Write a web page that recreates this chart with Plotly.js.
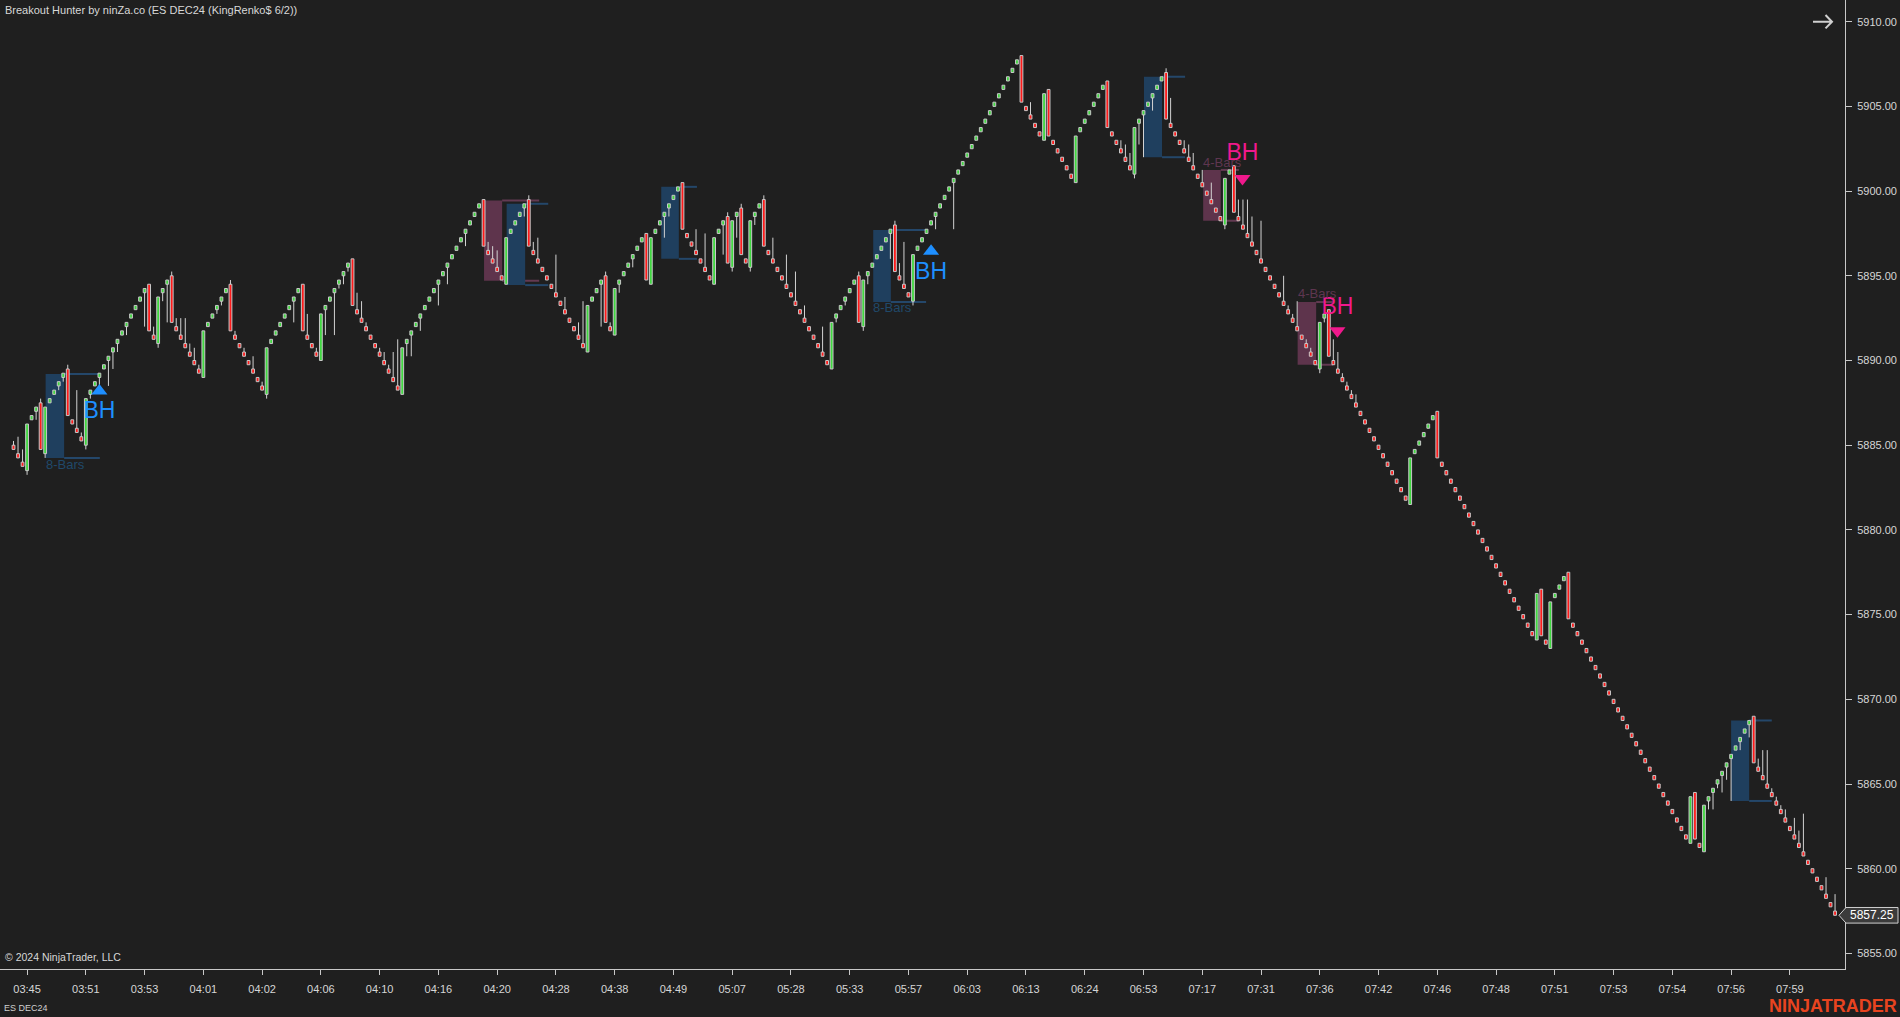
<!DOCTYPE html>
<html><head><meta charset="utf-8">
<script src="https://cdn.plot.ly/plotly-3.0.1.min.js"></script>
<style>html,body{margin:0;padding:0;background:#1f1f1f;overflow:hidden}#chart{width:1900px;height:1017px}</style>
</head><body><div id="chart"></div>
<script>
// ---- Renko bars (ES DEC24, KingRenko 6/2) ----
const opens = [
5885.0,5884.5,5884.0,5883.5,5886.5,5887.0,5887.5,5884.5,5887.5,5888.0,
5888.5,5889.0,5889.5,5886.5,5886.0,5885.5,5885.0,5888.0,5888.5,5889.0,
5889.5,5890.0,5890.5,5891.0,5891.5,5892.0,5892.5,5893.0,5893.5,5894.0,
5894.5,5891.5,5891.0,5894.0,5894.5,5895.0,5892.0,5891.5,5891.0,5890.5,
5890.0,5889.5,5889.0,5892.0,5892.5,5893.0,5893.5,5894.0,5894.5,5891.5,
5891.0,5890.5,5890.0,5889.5,5889.0,5888.5,5888.0,5891.0,5891.5,5892.0,
5892.5,5893.0,5893.5,5894.0,5894.5,5891.5,5891.0,5890.5,5890.0,5893.0,
5893.5,5894.0,5894.5,5895.0,5895.5,5896.0,5893.0,5892.5,5892.0,5891.5,
5891.0,5890.5,5890.0,5889.5,5889.0,5888.5,5888.0,5891.0,5891.5,5892.0,
5892.5,5893.0,5893.5,5894.0,5894.5,5895.0,5895.5,5896.0,5896.5,5897.0,
5897.5,5898.0,5898.5,5899.0,5899.5,5896.5,5896.0,5895.5,5895.0,5894.5,
5897.5,5898.0,5898.5,5899.0,5899.5,5896.5,5896.0,5895.5,5895.0,5894.5,
5894.0,5893.5,5893.0,5892.5,5892.0,5891.5,5891.0,5890.5,5893.5,5894.0,
5894.5,5895.0,5892.0,5891.5,5894.5,5895.0,5895.5,5896.0,5896.5,5897.0,
5897.5,5894.5,5897.5,5898.0,5898.5,5899.0,5899.5,5900.0,5900.5,5897.5,
5897.0,5896.5,5896.0,5895.5,5895.0,5894.5,5897.5,5898.0,5898.5,5895.5,
5898.5,5899.0,5896.0,5895.5,5898.5,5899.0,5899.5,5896.5,5896.0,5895.5,
5895.0,5894.5,5894.0,5893.5,5893.0,5892.5,5892.0,5891.5,5891.0,5890.5,
5890.0,5889.5,5892.5,5893.0,5893.5,5894.0,5894.5,5895.0,5892.0,5895.0,
5895.5,5896.0,5896.5,5897.0,5897.5,5898.0,5895.0,5894.5,5894.0,5893.5,
5896.5,5897.0,5897.5,5898.0,5898.5,5899.0,5899.5,5900.0,5900.5,5901.0,
5901.5,5902.0,5902.5,5903.0,5903.5,5904.0,5904.5,5905.0,5905.5,5906.0,
5906.5,5907.0,5907.5,5908.0,5905.0,5904.5,5904.0,5903.5,5903.0,5906.0,
5903.0,5902.5,5902.0,5901.5,5901.0,5900.5,5903.5,5904.0,5904.5,5905.0,
5905.5,5906.0,5906.5,5903.5,5903.0,5902.5,5902.0,5901.5,5901.0,5904.0,
5904.5,5905.0,5905.5,5906.0,5906.5,5907.0,5904.0,5903.5,5903.0,5902.5,
5902.0,5901.5,5901.0,5900.5,5900.0,5899.5,5899.0,5898.5,5898.0,5901.0,
5901.5,5898.5,5898.0,5897.5,5897.0,5896.5,5896.0,5895.5,5895.0,5894.5,
5894.0,5893.5,5893.0,5892.5,5892.0,5891.5,5891.0,5890.5,5890.0,5889.5,
5892.5,5893.0,5890.0,5889.5,5889.0,5888.5,5888.0,5887.5,5887.0,5886.5,
5886.0,5885.5,5885.0,5884.5,5884.0,5883.5,5883.0,5882.5,5882.0,5881.5,
5884.5,5885.0,5885.5,5886.0,5886.5,5887.0,5884.0,5883.5,5883.0,5882.5,
5882.0,5881.5,5881.0,5880.5,5880.0,5879.5,5879.0,5878.5,5878.0,5877.5,
5877.0,5876.5,5876.0,5875.5,5875.0,5874.5,5874.0,5873.5,5876.5,5873.5,
5873.0,5876.0,5876.5,5877.0,5877.5,5874.5,5874.0,5873.5,5873.0,5872.5,
5872.0,5871.5,5871.0,5870.5,5870.0,5869.5,5869.0,5868.5,5868.0,5867.5,
5867.0,5866.5,5866.0,5865.5,5865.0,5864.5,5864.0,5863.5,5863.0,5862.5,
5862.0,5861.5,5864.5,5861.5,5861.0,5864.0,5864.5,5865.0,5865.5,5866.0,
5866.5,5867.0,5867.5,5868.0,5868.5,5869.0,5866.0,5865.5,5865.0,5864.5,
5864.0,5863.5,5863.0,5862.5,5862.0,5861.5,5861.0,5860.5,5860.0,5859.5,
5859.0,5858.5,5858.0,5857.5];
const highs = [
5885.25,5885.5,5884.75,5886.25,5886.75,5887.25,5887.75,5887.25,5887.75,5888.25,
5888.75,5889.25,5889.75,5886.5,5888.25,5885.75,5887.75,5888.25,5888.75,5889.25,
5889.75,5890.25,5890.75,5891.25,5891.75,5892.25,5892.75,5893.25,5893.75,5894.25,
5894.5,5892.0,5893.75,5894.25,5894.75,5895.25,5892.5,5892.5,5892.5,5891.0,
5890.75,5889.75,5891.75,5892.25,5892.75,5893.25,5893.75,5894.25,5894.75,5891.75,
5891.0,5890.75,5890.0,5890.25,5889.0,5888.75,5890.75,5891.25,5891.75,5892.25,
5892.75,5893.25,5893.75,5894.25,5894.5,5892.75,5891.0,5890.75,5892.75,5893.25,
5893.75,5894.25,5894.75,5895.25,5895.75,5896.0,5894.0,5893.5,5892.25,5891.5,
5891.0,5890.75,5890.5,5889.75,5890.5,5891.25,5890.75,5891.25,5891.75,5892.25,
5892.75,5893.25,5893.75,5894.25,5894.75,5895.25,5895.75,5896.25,5896.75,5897.25,
5897.75,5898.25,5898.75,5899.25,5899.5,5897.0,5896.75,5896.5,5895.0,5897.25,
5897.75,5898.25,5898.75,5899.25,5899.75,5897.0,5897.25,5895.5,5895.0,5894.5,
5896.25,5893.5,5893.75,5892.5,5892.0,5892.25,5893.5,5893.25,5893.75,5894.25,
5894.75,5895.25,5892.25,5894.25,5894.75,5895.25,5895.75,5896.25,5896.75,5897.25,
5897.5,5897.25,5897.75,5898.25,5898.75,5899.25,5899.75,5900.25,5900.5,5897.5,
5897.0,5897.75,5896.0,5897.5,5895.0,5897.25,5897.75,5898.25,5898.75,5898.25,
5898.75,5899.25,5896.0,5898.25,5898.75,5899.25,5899.75,5896.5,5897.25,5895.5,
5895.0,5896.25,5894.0,5895.25,5893.0,5893.25,5892.0,5891.5,5891.0,5892.0,
5890.0,5892.25,5892.75,5893.25,5893.75,5894.25,5894.75,5895.25,5894.75,5895.25,
5895.75,5896.25,5896.75,5897.25,5897.75,5898.25,5895.75,5897.0,5894.0,5896.25,
5896.75,5897.25,5897.75,5898.25,5898.75,5899.25,5899.75,5900.25,5900.75,5901.25,
5901.75,5902.25,5902.75,5903.25,5903.75,5904.25,5904.75,5905.25,5905.75,5906.25,
5906.75,5907.25,5907.75,5908.0,5905.0,5905.25,5904.0,5903.5,5905.75,5906.0,
5903.0,5902.5,5902.0,5901.5,5901.0,5903.25,5903.75,5904.25,5904.75,5905.25,
5905.75,5906.25,5906.5,5903.5,5903.0,5903.0,5902.75,5902.25,5903.75,5904.25,
5904.75,5905.25,5905.75,5906.25,5906.75,5907.25,5905.5,5903.5,5903.0,5903.0,
5902.75,5902.25,5901.0,5901.25,5900.0,5900.5,5899.0,5898.5,5900.75,5901.25,
5901.5,5899.5,5899.5,5899.5,5898.5,5896.5,5898.25,5895.5,5895.0,5894.5,
5894.0,5895.0,5893.25,5892.75,5893.5,5891.5,5891.25,5890.75,5890.0,5892.25,
5892.75,5893.0,5891.25,5890.5,5889.25,5888.75,5888.25,5888.0,5887.0,5886.5,
5886.0,5885.5,5885.0,5884.5,5884.0,5883.5,5883.0,5882.5,5882.0,5884.25,
5884.75,5885.25,5885.75,5886.25,5886.75,5887.0,5884.0,5883.5,5883.0,5882.5,
5882.0,5881.5,5881.0,5880.5,5880.0,5879.5,5879.0,5878.5,5878.0,5877.5,
5877.0,5876.5,5876.0,5875.5,5875.0,5874.5,5874.0,5876.25,5876.5,5873.5,
5875.75,5876.25,5876.75,5877.25,5877.5,5874.5,5874.0,5873.5,5873.0,5872.5,
5872.0,5871.5,5871.0,5870.5,5870.0,5869.5,5869.0,5868.5,5868.0,5867.5,
5867.0,5866.5,5866.0,5865.5,5865.0,5864.5,5864.0,5863.5,5863.0,5862.5,
5862.0,5864.25,5864.5,5861.5,5863.75,5864.25,5864.75,5865.25,5865.75,5866.25,
5866.75,5867.25,5867.75,5868.25,5868.75,5869.0,5866.5,5867.0,5867.0,5864.75,
5864.25,5863.75,5863.5,5862.5,5863.0,5862.25,5863.25,5860.5,5860.0,5859.5,
5859.0,5859.5,5858.0,5858.5];
const lows = [
5884.75,5884.25,5883.75,5883.25,5886.5,5886.5,5884.75,5884.25,5887.5,5888.0,
5888.25,5888.75,5886.75,5886.25,5885.75,5885.25,5884.75,5887.75,5888.5,5888.5,
5889.5,5888.5,5889.5,5890.5,5891.5,5891.5,5892.5,5893.0,5893.5,5892.0,
5891.75,5891.25,5890.75,5893.5,5892.25,5892.25,5891.75,5891.25,5890.75,5890.25,
5889.75,5889.25,5889.0,5892.0,5892.5,5892.75,5893.25,5894.0,5891.75,5891.25,
5890.75,5890.25,5889.75,5889.25,5888.75,5888.25,5887.75,5891.0,5891.5,5892.0,
5892.5,5893.0,5892.25,5894.0,5891.75,5891.25,5890.75,5890.25,5890.0,5891.5,
5893.5,5891.5,5894.25,5894.5,5895.25,5893.25,5892.75,5892.25,5891.75,5891.25,
5890.75,5890.25,5889.75,5889.25,5888.75,5888.25,5888.0,5890.25,5890.25,5892.0,
5891.75,5893.0,5893.5,5894.0,5893.25,5895.0,5894.5,5896.0,5896.5,5897.0,
5896.75,5898.0,5898.5,5899.0,5896.75,5896.25,5895.75,5895.25,5894.75,5894.5,
5897.5,5898.0,5898.5,5898.5,5896.75,5896.25,5895.75,5895.25,5894.75,5894.25,
5893.75,5893.25,5892.75,5892.25,5891.75,5891.25,5890.75,5890.5,5893.5,5894.0,
5892.0,5892.25,5891.75,5891.5,5894.0,5895.0,5895.5,5895.5,5896.5,5897.0,
5894.75,5894.5,5897.5,5898.0,5897.25,5898.5,5899.5,5900.0,5897.75,5897.25,
5896.75,5896.25,5895.75,5895.25,5894.75,5894.5,5897.5,5896.25,5895.75,5895.25,
5897.25,5896.25,5895.75,5895.25,5898.0,5899.0,5896.75,5896.25,5895.75,5895.25,
5894.75,5894.25,5893.75,5893.25,5892.75,5892.25,5891.75,5891.25,5890.75,5890.25,
5889.75,5889.5,5892.25,5893.0,5893.25,5894.0,5894.5,5892.25,5891.75,5894.5,
5895.5,5896.0,5896.5,5897.0,5896.0,5895.25,5894.75,5894.25,5893.75,5893.25,
5896.5,5897.0,5897.5,5898.0,5897.75,5899.0,5899.5,5900.0,5897.75,5901.0,
5901.5,5902.0,5902.5,5903.0,5903.5,5904.0,5904.5,5905.0,5905.5,5906.0,
5906.5,5907.0,5907.5,5905.25,5904.75,5904.25,5903.75,5903.25,5903.0,5903.25,
5902.75,5902.25,5901.75,5901.25,5900.75,5900.5,5903.5,5904.0,5904.5,5905.0,
5905.5,5906.0,5903.75,5903.25,5902.75,5902.25,5901.75,5901.25,5900.75,5902.75,
5902.0,5905.0,5904.75,5906.0,5906.5,5904.25,5903.75,5903.25,5902.75,5902.25,
5901.75,5901.25,5900.75,5900.25,5899.75,5899.25,5898.75,5898.25,5897.75,5901.0,
5898.75,5898.25,5897.75,5897.25,5896.75,5896.25,5895.75,5895.25,5894.75,5894.25,
5893.75,5893.25,5892.75,5892.25,5891.75,5891.25,5890.75,5890.25,5889.75,5889.25,
5892.25,5890.25,5889.75,5889.25,5888.75,5888.25,5887.75,5887.25,5886.75,5886.25,
5885.75,5885.25,5884.75,5884.25,5883.75,5883.25,5882.75,5882.25,5881.75,5881.5,
5884.5,5885.0,5885.5,5886.0,5886.5,5884.25,5883.75,5883.25,5882.75,5882.25,
5881.75,5881.25,5880.75,5880.25,5879.75,5879.25,5878.75,5878.25,5877.75,5877.25,
5876.75,5876.25,5875.75,5875.25,5874.75,5874.25,5873.75,5873.5,5873.75,5873.25,
5873.0,5876.0,5876.5,5877.0,5874.75,5874.25,5873.75,5873.25,5872.75,5872.25,
5871.75,5871.25,5870.75,5870.25,5869.75,5869.25,5868.75,5868.25,5867.75,5867.25,
5866.75,5866.25,5865.75,5865.25,5864.75,5864.25,5863.75,5863.25,5862.75,5862.25,
5861.75,5861.5,5861.75,5861.25,5861.0,5863.5,5863.5,5864.75,5864.5,5865.25,
5864.0,5867.0,5867.0,5868.0,5867.75,5866.25,5865.75,5865.25,5864.75,5864.25,
5863.75,5863.25,5862.75,5862.25,5861.75,5861.25,5860.75,5860.25,5859.75,5859.25,
5858.75,5858.25,5857.75,5857.25];
const closes = [
5884.75,5884.25,5883.75,5886.25,5886.75,5887.25,5884.75,5887.25,5887.75,5888.25,
5888.75,5889.25,5886.75,5886.25,5885.75,5885.25,5887.75,5888.25,5888.75,5889.25,
5889.75,5890.25,5890.75,5891.25,5891.75,5892.25,5892.75,5893.25,5893.75,5894.25,
5891.75,5891.25,5893.75,5894.25,5894.75,5892.25,5891.75,5891.25,5890.75,5890.25,
5889.75,5889.25,5891.75,5892.25,5892.75,5893.25,5893.75,5894.25,5891.75,5891.25,
5890.75,5890.25,5889.75,5889.25,5888.75,5888.25,5890.75,5891.25,5891.75,5892.25,
5892.75,5893.25,5893.75,5894.25,5891.75,5891.25,5890.75,5890.25,5892.75,5893.25,
5893.75,5894.25,5894.75,5895.25,5895.75,5893.25,5892.75,5892.25,5891.75,5891.25,
5890.75,5890.25,5889.75,5889.25,5888.75,5888.25,5890.75,5891.25,5891.75,5892.25,
5892.75,5893.25,5893.75,5894.25,5894.75,5895.25,5895.75,5896.25,5896.75,5897.25,
5897.75,5898.25,5898.75,5899.25,5896.75,5896.25,5895.75,5895.25,5894.75,5897.25,
5897.75,5898.25,5898.75,5899.25,5896.75,5896.25,5895.75,5895.25,5894.75,5894.25,
5893.75,5893.25,5892.75,5892.25,5891.75,5891.25,5890.75,5893.25,5893.75,5894.25,
5894.75,5892.25,5891.75,5894.25,5894.75,5895.25,5895.75,5896.25,5896.75,5897.25,
5894.75,5897.25,5897.75,5898.25,5898.75,5899.25,5899.75,5900.25,5897.75,5897.25,
5896.75,5896.25,5895.75,5895.25,5894.75,5897.25,5897.75,5898.25,5895.75,5898.25,
5898.75,5896.25,5895.75,5898.25,5898.75,5899.25,5896.75,5896.25,5895.75,5895.25,
5894.75,5894.25,5893.75,5893.25,5892.75,5892.25,5891.75,5891.25,5890.75,5890.25,
5889.75,5892.25,5892.75,5893.25,5893.75,5894.25,5894.75,5892.25,5894.75,5895.25,
5895.75,5896.25,5896.75,5897.25,5897.75,5895.25,5894.75,5894.25,5893.75,5896.25,
5896.75,5897.25,5897.75,5898.25,5898.75,5899.25,5899.75,5900.25,5900.75,5901.25,
5901.75,5902.25,5902.75,5903.25,5903.75,5904.25,5904.75,5905.25,5905.75,5906.25,
5906.75,5907.25,5907.75,5905.25,5904.75,5904.25,5903.75,5903.25,5905.75,5903.25,
5902.75,5902.25,5901.75,5901.25,5900.75,5903.25,5903.75,5904.25,5904.75,5905.25,
5905.75,5906.25,5903.75,5903.25,5902.75,5902.25,5901.75,5901.25,5903.75,5904.25,
5904.75,5905.25,5905.75,5906.25,5906.75,5904.25,5903.75,5903.25,5902.75,5902.25,
5901.75,5901.25,5900.75,5900.25,5899.75,5899.25,5898.75,5898.25,5900.75,5901.25,
5898.75,5898.25,5897.75,5897.25,5896.75,5896.25,5895.75,5895.25,5894.75,5894.25,
5893.75,5893.25,5892.75,5892.25,5891.75,5891.25,5890.75,5890.25,5889.75,5892.25,
5892.75,5890.25,5889.75,5889.25,5888.75,5888.25,5887.75,5887.25,5886.75,5886.25,
5885.75,5885.25,5884.75,5884.25,5883.75,5883.25,5882.75,5882.25,5881.75,5884.25,
5884.75,5885.25,5885.75,5886.25,5886.75,5884.25,5883.75,5883.25,5882.75,5882.25,
5881.75,5881.25,5880.75,5880.25,5879.75,5879.25,5878.75,5878.25,5877.75,5877.25,
5876.75,5876.25,5875.75,5875.25,5874.75,5874.25,5873.75,5876.25,5873.75,5873.25,
5875.75,5876.25,5876.75,5877.25,5874.75,5874.25,5873.75,5873.25,5872.75,5872.25,
5871.75,5871.25,5870.75,5870.25,5869.75,5869.25,5868.75,5868.25,5867.75,5867.25,
5866.75,5866.25,5865.75,5865.25,5864.75,5864.25,5863.75,5863.25,5862.75,5862.25,
5861.75,5864.25,5861.75,5861.25,5863.75,5864.25,5864.75,5865.25,5865.75,5866.25,
5866.75,5867.25,5867.75,5868.25,5868.75,5866.25,5865.75,5865.25,5864.75,5864.25,
5863.75,5863.25,5862.75,5862.25,5861.75,5861.25,5860.75,5860.25,5859.75,5859.25,
5858.75,5858.25,5857.75,5857.25];

// ---- time axis labels (bar index -> label) ----
const tickBars = [3,16,29,42,55,68,81,94,107,120,133,146,159,172,185,198,211,224,237,250,263,276,289,302,315,328,341,354,367,380,393];
const tickLabels = ["03:45","03:51","03:53","04:01","04:02","04:06","04:10","04:16","04:20","04:28","04:38","04:49","05:07","05:28","05:33","05:57","06:03","06:13","06:24","06:53","07:17","07:31","07:36","07:42","07:46","07:48","07:51","07:53","07:54","07:56","07:59"];

// ---- Breakout Hunter consolidation boxes ----
const boxStart    = [7.1, 104.1, 109.1, 143.3, 190.2, 250.1, 263.2, 284.1, 380.0];
const boxShadeEnd = [11.2, 108.1, 113.2, 147.2, 194.1, 254.1, 267.1, 288.2, 384.0];
const boxLineEnd  = [19.1, 116.3, 118.3, 151.2, 201.9, 259.2, 271.1, 291.9, 389.0];
const boxTop      = [5889.2, 5899.45, 5899.25, 5900.25, 5897.7, 5906.75, 5901.25, 5893.45, 5868.75];
const boxBottom   = [5884.25, 5894.7, 5894.45, 5896.0, 5893.45, 5902.0, 5898.25, 5889.75, 5864.0];
const boxSide     = ["buy","sell","buy","buy","buy","buy","sell","sell","buy"];
const boxLabel    = ["8-Bars","","","","8-Bars","","4-Bars","4-Bars",""];
const boxLabelY   = [5883.85, 0, 0, 0, 5893.1, 0, 5901.7, 5893.95, 0];

// ---- BH signals ----
const bhBar   = [19.0, 203.0, 271.9, 292.9];
const bhMarkY = [5888.2, 5896.45, 5900.75, 5891.75];
const bhTextY = [5886.95, 5895.15, 5902.15, 5893.1];
const bhSide  = ["buy","buy","sell","sell"];

const lastPrice = 5857.25;

// ---- geometry ----
const W = 1900, H = 1017, ML = 0, MR = 55, MT = 0, MB = 48;
const PW = W - ML - MR, PH = H - MT - MB;
const yMin = 5854.08, yMax = 5911.28;
const xMin = -2.99, xMax = 405.2;
const px2x = p => (p - ML) / PW;
const px2y = p => 1 - (p - MT) / PH;
const FONT = "Liberation Sans, Arial, sans-serif";

const idx = closes.map((_, i) => i);
const upX = [], upBase = [], upLen = [], dnX = [], dnBase = [], dnLen = [];
const wx = [], wy = [];
idx.forEach(i => {
  const o = opens[i], c = closes[i];
  const top = Math.max(o, c), bot = Math.min(o, c);
  if (c >= o) { upX.push(i); upBase.push(o); upLen.push(c - o); }
  else { dnX.push(i); dnBase.push(c); dnLen.push(o - c); }
  if (highs[i] > top) { wx.push(i, i, null); wy.push(highs[i], top, null); }
  if (lows[i] < bot) { wx.push(i, i, null); wy.push(bot, lows[i], null); }
});

const traces = [
  { type: "scatter", mode: "lines", x: wx, y: wy, line: { color: "#d2d2d2", width: 1 }, hoverinfo: "skip", connectgaps: false },
  { type: "bar", x: upX, base: upBase, y: upLen, width: 0.62,
    marker: { color: "#40d840", line: { color: "#c8c8c8", width: 1 } }, hoverinfo: "skip" },
  { type: "bar", x: dnX, base: dnBase, y: dnLen, width: 0.62,
    marker: { color: "#ff1a1a", line: { color: "#c8c8c8", width: 1 } }, hoverinfo: "skip" }
];

// BH triangles and texts
const buyI = bhSide.map((s, k) => s === "buy" ? k : -1).filter(k => k >= 0);
const sellI = bhSide.map((s, k) => s === "sell" ? k : -1).filter(k => k >= 0);
traces.push({ type: "scatter", mode: "markers", x: buyI.map(k => bhBar[k]), y: buyI.map(k => bhMarkY[k]),
  marker: { symbol: "triangle-up", size: 14, color: "#1e8fff" }, hoverinfo: "skip" });
traces.push({ type: "scatter", mode: "markers", x: sellI.map(k => bhBar[k]), y: sellI.map(k => bhMarkY[k]),
  marker: { symbol: "triangle-down", size: 14, color: "#f0198c" }, hoverinfo: "skip" });
traces.push({ type: "scatter", mode: "text", x: buyI.map(k => bhBar[k]), y: buyI.map(k => bhTextY[k]),
  text: buyI.map(() => "BH"), textposition: "middle center",
  textfont: { family: "Liberation Sans Narrow, Arial Narrow, " + FONT, size: 23, color: "#1e8fff" }, hoverinfo: "skip" });
traces.push({ type: "scatter", mode: "text", x: sellI.map(k => bhBar[k]), y: sellI.map(k => bhTextY[k]),
  text: sellI.map(() => "BH"), textposition: "middle center",
  textfont: { family: "Liberation Sans Narrow, Arial Narrow, " + FONT, size: 23, color: "#f0198c" }, hoverinfo: "skip" });

const shapes = [];
const annotations = [];
boxStart.forEach((s, k) => {
  const buy = boxSide[k] === "buy";
  const fill = buy ? "#1f3f5e" : "#5e344c";
  const ln = buy ? "#24476a" : "#633a52";
  shapes.push({ type: "rect", layer: "below", xref: "x", yref: "y", x0: s, x1: boxShadeEnd[k], y0: boxBottom[k], y1: boxTop[k],
    fillcolor: fill, line: { width: 0 } });
  shapes.push({ type: "line", layer: "below", xref: "x", yref: "y", x0: boxShadeEnd[k], x1: boxLineEnd[k], y0: boxTop[k], y1: boxTop[k],
    line: { color: ln, width: 2 } });
  shapes.push({ type: "line", layer: "below", xref: "x", yref: "y", x0: boxShadeEnd[k], x1: boxLineEnd[k], y0: boxBottom[k], y1: boxBottom[k],
    line: { color: ln, width: 2 } });
  if (boxLabel[k]) {
    annotations.push({ xref: "x", yref: "y", x: s, y: boxLabelY[k], xanchor: "left", yanchor: "middle", showarrow: false,
      text: boxLabel[k], xshift: -2, font: { family: FONT, size: 13, color: buy ? "#20496a" : "#5e3650" } });
  }
});

// arrow at top right
shapes.push({ type: "path", xref: "paper", yref: "paper",
  path: `M ${px2x(1813)},${px2y(21.7)} L ${px2x(1832)},${px2y(21.7)} M ${px2x(1825.5)},${px2y(15)} L ${px2x(1832)},${px2y(21.7)} L ${px2x(1825.5)},${px2y(28.4)}`,
  line: { color: "#d0d0d0", width: 2 } });

// last price tag
const lpY = (lastPrice - yMin) / (yMax - yMin);
const hh = 7.8 / PH;
shapes.push({ type: "path", xref: "paper", yref: "paper",
  path: `M ${px2x(1839)},${lpY} L ${px2x(1846)},${lpY + hh} L ${px2x(1898)},${lpY + hh} L ${px2x(1898)},${lpY - hh} L ${px2x(1846)},${lpY - hh} Z`,
  fillcolor: "#3b3b3b", line: { color: "#cfcfcf", width: 1 } });
annotations.push({ xref: "paper", yref: "paper", x: px2x(1872), y: lpY, xanchor: "center", yanchor: "middle", showarrow: false,
  text: lastPrice.toFixed(2), font: { family: FONT, size: 12, color: "#ffffff" } });

annotations.push({ xref: "paper", yref: "paper", x: px2x(3), y: px2y(2), xanchor: "left", yanchor: "top", showarrow: false,
  text: "Breakout Hunter by ninZa.co (ES DEC24 (KingRenko$ 6/2))", font: { family: FONT, size: 11, color: "#d8d8d8" } });
annotations.push({ xref: "paper", yref: "paper", x: px2x(3), y: px2y(957), xanchor: "left", yanchor: "middle", showarrow: false,
  text: "© 2024 NinjaTrader, LLC", font: { family: FONT, size: 10.5, color: "#d8d8d8" } });
annotations.push({ xref: "paper", yref: "paper", x: px2x(2), y: px2y(1008), xanchor: "left", yanchor: "middle", showarrow: false,
  text: "ES DEC24", font: { family: FONT, size: 9, color: "#d0d0d0" } });
annotations.push({ xref: "paper", yref: "paper", x: px2x(1899), y: px2y(1006), xanchor: "right", yanchor: "middle", showarrow: false,
  text: "<b>NINJATRADER</b>", font: { family: "Liberation Sans Narrow, Arial Narrow, " + FONT, size: 18, color: "#e8441f" } });

const layout = {
  width: W, height: H,
  margin: { l: ML, r: MR, t: MT, b: MB, pad: 0 },
  paper_bgcolor: "#1f1f1f", plot_bgcolor: "#1f1f1f",
  showlegend: false, barmode: "overlay",
  font: { family: FONT, size: 11, color: "#d6d6d6" },
  xaxis: { range: [xMin, xMax], showgrid: false, zeroline: false, showline: true, linecolor: "#c8c8c8", linewidth: 1,
    ticks: "outside", ticklen: 5, tickcolor: "#c8c8c8", tickvals: tickBars, ticktext: tickLabels,
    tickfont: { family: FONT, size: 11, color: "#d6d6d6" }, ticklabelstandoff: 5, fixedrange: true },
  yaxis: { side: "right", range: [yMin, yMax], showgrid: false, zeroline: false, showline: true, linecolor: "#c8c8c8", linewidth: 1,
    ticks: "outside", ticklen: 6, tickcolor: "#c8c8c8", tick0: 5855, dtick: 5, tickformat: ".2f",
    tickfont: { family: FONT, size: 11, color: "#d6d6d6" }, ticklabelstandoff: 3, fixedrange: true },
  shapes, annotations
};

Plotly.newPlot("chart", traces, layout, { displayModeBar: false, staticPlot: true });
</script>
</body></html>
